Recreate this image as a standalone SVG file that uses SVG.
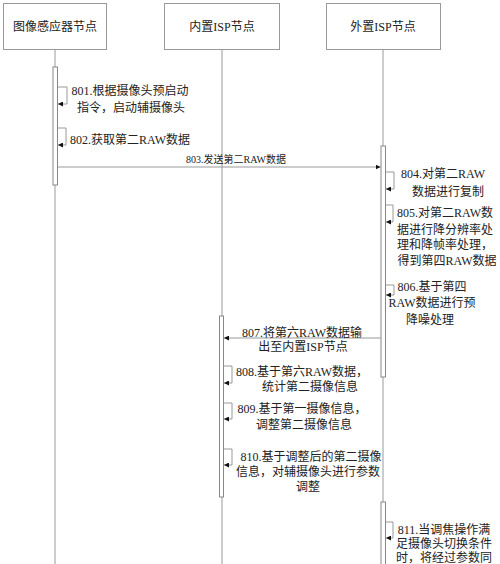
<svg xmlns="http://www.w3.org/2000/svg" width="500" height="564" viewBox="0 0 500 564">
<style>
.box{fill:#fff;stroke:#999;stroke-width:1}
.life{stroke:#999;stroke-width:1}
.bar{fill:#fff;stroke:#888;stroke-width:1}
.ln{fill:none;stroke:#999;stroke-width:1}
text{font-family:"Liberation Serif","Noto Sans CJK SC",serif;font-size:12px;fill:#222;text-anchor:middle}
.sm{font-size:10px}
</style>
<defs>
<marker id="ah" viewBox="0 0 6 6" refX="6" refY="3" markerWidth="5" markerHeight="5" orient="auto" markerUnits="userSpaceOnUse">
<path d="M0,0 L6,3 L0,6 z" fill="#111"/>
</marker>
</defs>
<g id="lifelines">
<line class="life" x1="55" y1="49" x2="55" y2="564"/>
<line class="life" x1="222" y1="49" x2="222" y2="564"/>
<line class="life" x1="383" y1="49" x2="383" y2="564"/>
</g>
<g id="sensor"><rect class="box" x="3.5" y="3.5" width="103" height="46"/><text x="55" y="31">图像感应器节点</text></g>
<g id="isp_in"><rect class="box" x="164.5" y="3.5" width="115" height="46"/><text x="222" y="31">内置ISP节点</text></g>
<g id="isp_ext"><rect class="box" x="326.5" y="3.5" width="114" height="46"/><text x="383" y="31">外置ISP节点</text></g>
<g id="bars">
<rect class="bar" x="53" y="67" width="4.5" height="118"/>
<rect class="bar" x="381" y="146" width="4.5" height="231"/>
<rect class="bar" x="219.5" y="316" width="4" height="181"/>
<rect class="bar" x="381" y="502" width="4.5" height="70"/>
</g>
<g id="connectors">
<path class="ln" d="M57.5,87 H67 V104 H58" marker-end="url(#ah)"/>
<path class="ln" d="M57.5,128 H66 V145 H58" marker-end="url(#ah)"/>
<path class="ln" d="M57.5,167 H380.5" marker-end="url(#ah)"/>
<path class="ln" d="M385.5,172 H394 V189 H386" marker-end="url(#ah)"/>
<path class="ln" d="M385.5,205 H393 V222 H386" marker-end="url(#ah)"/>
<path class="ln" d="M385.5,285 H394 V295 H386" marker-end="url(#ah)"/>
<path class="ln" d="M381,338 H224" marker-end="url(#ah)"/>
<path class="ln" d="M223.5,366 H232 V383 H224" marker-end="url(#ah)"/>
<path class="ln" d="M223.5,403 H232 V419 H224" marker-end="url(#ah)"/>
<path class="ln" d="M223.5,449 H232 V465 H224" marker-end="url(#ah)"/>
<path class="ln" d="M385.5,522 H393 V538 H386" marker-end="url(#ah)"/>
</g>
<g id="labels">
<text x="130" y="95">801.根据摄像头预启动</text>
<text x="131" y="112">指令，启动辅摄像头</text>
<text x="130" y="144">802.获取第二RAW数据</text>
<text class="sm" x="236" y="163">803.发送第二RAW数据</text>
<text x="443" y="178">804.对第二RAW</text>
<text x="448" y="196">数据进行复制</text>
<text x="445" y="217">805.对第二RAW数</text>
<text x="445" y="234">据进行降分辨率处</text>
<text x="445" y="249">理和降帧率处理，</text>
<text x="447" y="265">得到第四RAW数据</text>
<text x="432" y="291">806.基于第四</text>
<text x="432" y="307">RAW数据进行预</text>
<text x="430" y="324">降噪处理</text>
<text x="302" y="337">807.将第六RAW数据输</text>
<text x="303" y="351">出至内置ISP节点</text>
<text x="302" y="376">808.基于第六RAW数据，</text>
<text x="310" y="391">统计第二摄像信息</text>
<text x="302" y="413">809.基于第一摄像信息，</text>
<text x="304" y="429">调整第二摄像信息</text>
<text x="311" y="461">810.基于调整后的第二摄像</text>
<text x="308" y="476">信息，对辅摄像头进行参数</text>
<text x="308" y="491">调整</text>
<text x="444" y="534">811.当调焦操作满</text>
<text x="444" y="548">足摄像头切换条件</text>
<text x="444" y="562">时，将经过参数同</text>
</g>
</svg>
